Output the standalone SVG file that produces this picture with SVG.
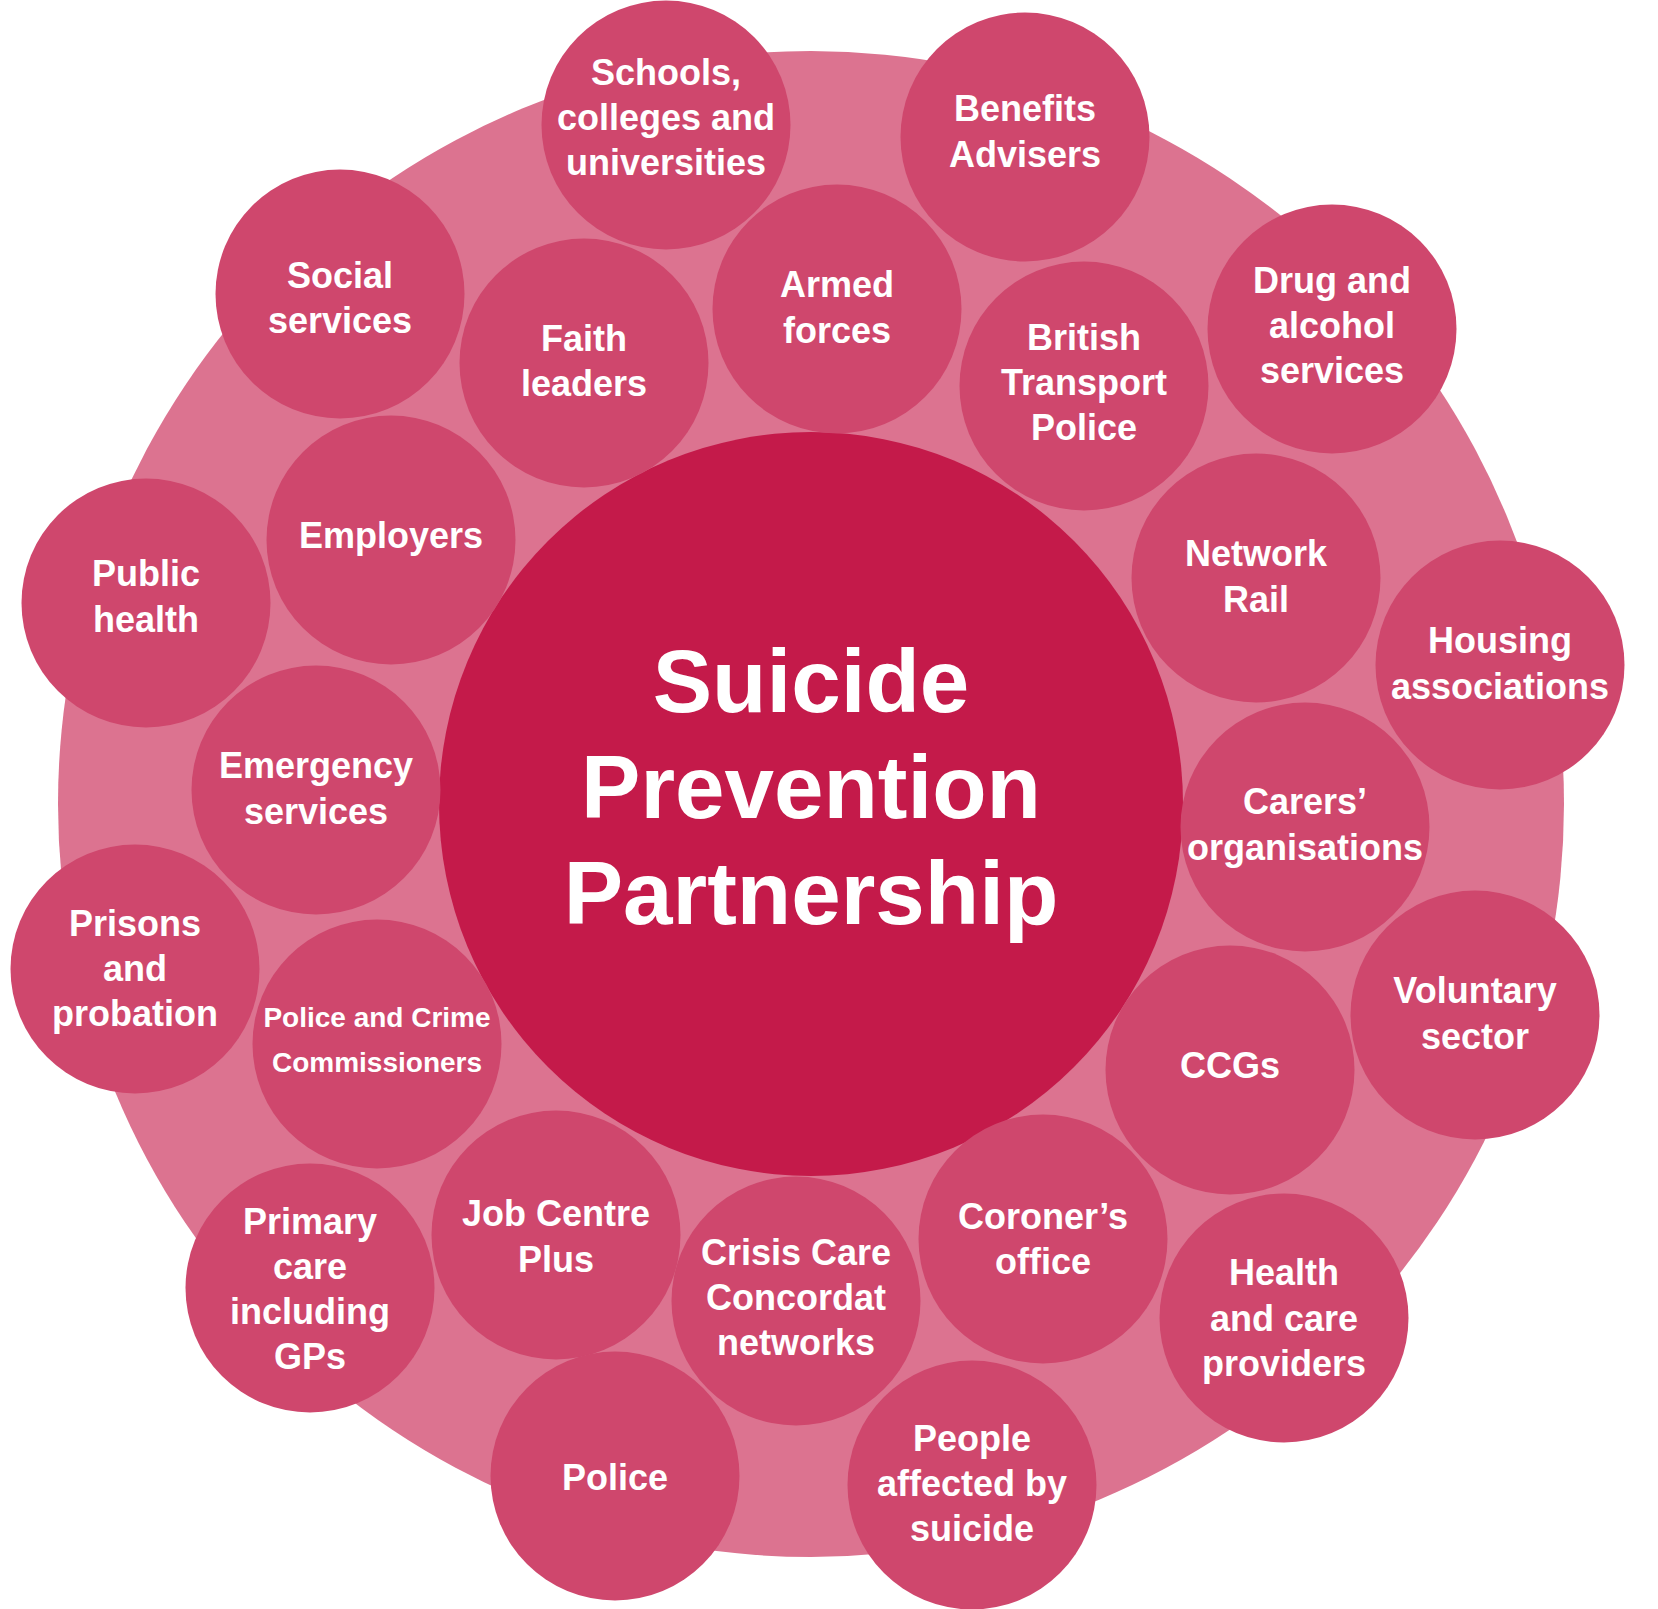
<svg xmlns="http://www.w3.org/2000/svg" width="1658" height="1609" viewBox="0 0 1658 1609">
<style>
.ring{fill:#DC7390}
.hub{fill:#C41A4A}
.node{fill:#CF476D}
.t{font-family:"Liberation Sans",Arial,Helvetica,sans-serif;font-weight:bold;font-size:36px;fill:#FFFFFF;text-anchor:middle}
.ts{font-size:28px}
.title{font-family:"Liberation Sans",Arial,Helvetica,sans-serif;font-weight:bold;font-size:89px;fill:#FFFFFF;text-anchor:middle}
</style>
<rect width="1658" height="1609" fill="#FFFFFF"/>
<g id="connectors"></g>
<g id="background-ring"><circle class="ring" cx="811" cy="804" r="753"/></g>
<g id="hub">
<circle class="hub" cx="811" cy="804" r="372"/>
<text class="title" x="811" y="712">Suicide</text>
<text class="title" x="811" y="818">Prevention</text>
<text class="title" x="811" y="924">Partnership</text>
</g>
<g id="schools"><circle class="node" cx="666" cy="125" r="124.5"/><text class="t" x="666" y="85">Schools,</text><text class="t" x="666" y="130">colleges and</text><text class="t" x="666" y="175">universities</text></g>
<g id="benefits"><circle class="node" cx="1025" cy="137" r="124.5"/><text class="t" x="1025" y="121">Benefits</text><text class="t" x="1025" y="167">Advisers</text></g>
<g id="social"><circle class="node" cx="340" cy="294" r="124.5"/><text class="t" x="340" y="288">Social</text><text class="t" x="340" y="333">services</text></g>
<g id="faith"><circle class="node" cx="584" cy="363" r="124.5"/><text class="t" x="584" y="351">Faith</text><text class="t" x="584" y="396">leaders</text></g>
<g id="armed"><circle class="node" cx="837" cy="309" r="124.5"/><text class="t" x="837" y="297">Armed</text><text class="t" x="837" y="343">forces</text></g>
<g id="btp"><circle class="node" cx="1084" cy="386" r="124.5"/><text class="t" x="1084" y="350">British</text><text class="t" x="1084" y="395">Transport</text><text class="t" x="1084" y="440">Police</text></g>
<g id="drug"><circle class="node" cx="1332" cy="329" r="124.5"/><text class="t" x="1332" y="293">Drug and</text><text class="t" x="1332" y="338">alcohol</text><text class="t" x="1332" y="383">services</text></g>
<g id="employers"><circle class="node" cx="391" cy="540" r="124.5"/><text class="t" x="391" y="548">Employers</text></g>
<g id="public-health"><circle class="node" cx="146" cy="603" r="124.5"/><text class="t" x="146" y="586">Public</text><text class="t" x="146" y="632">health</text></g>
<g id="network-rail"><circle class="node" cx="1256" cy="578" r="124.5"/><text class="t" x="1256" y="566">Network</text><text class="t" x="1256" y="612">Rail</text></g>
<g id="housing"><circle class="node" cx="1500" cy="665" r="124.5"/><text class="t" x="1500" y="653">Housing</text><text class="t" x="1500" y="699">associations</text></g>
<g id="emergency"><circle class="node" cx="316" cy="790" r="124.5"/><text class="t" x="316" y="778">Emergency</text><text class="t" x="316" y="824">services</text></g>
<g id="carers"><circle class="node" cx="1305" cy="827" r="124.5"/><text class="t" x="1305" y="814">Carers’</text><text class="t" x="1305" y="860">organisations</text></g>
<g id="prisons"><circle class="node" cx="135" cy="969" r="124.5"/><text class="t" x="135" y="936">Prisons</text><text class="t" x="135" y="981">and</text><text class="t" x="135" y="1026">probation</text></g>
<g id="pcc"><circle class="node" cx="377" cy="1044" r="124.5"/><text class="t ts" x="377" y="1027">Police and Crime</text><text class="t ts" x="377" y="1072">Commissioners</text></g>
<g id="voluntary"><circle class="node" cx="1475" cy="1015" r="124.5"/><text class="t" x="1475" y="1003">Voluntary</text><text class="t" x="1475" y="1049">sector</text></g>
<g id="ccgs"><circle class="node" cx="1230" cy="1070" r="124.5"/><text class="t" x="1230" y="1078">CCGs</text></g>
<g id="jobcentre"><circle class="node" cx="556" cy="1235" r="124.5"/><text class="t" x="556" y="1226">Job Centre</text><text class="t" x="556" y="1272">Plus</text></g>
<g id="crisis"><circle class="node" cx="796" cy="1301" r="124.5"/><text class="t" x="796" y="1265">Crisis Care</text><text class="t" x="796" y="1310">Concordat</text><text class="t" x="796" y="1355">networks</text></g>
<g id="coroner"><circle class="node" cx="1043" cy="1239" r="124.5"/><text class="t" x="1043" y="1229">Coroner’s</text><text class="t" x="1043" y="1274">office</text></g>
<g id="primary"><circle class="node" cx="310" cy="1288" r="124.5"/><text class="t" x="310" y="1234">Primary</text><text class="t" x="310" y="1279">care</text><text class="t" x="310" y="1324">including</text><text class="t" x="310" y="1369">GPs</text></g>
<g id="health-care"><circle class="node" cx="1284" cy="1318" r="124.5"/><text class="t" x="1284" y="1285">Health</text><text class="t" x="1284" y="1331">and care</text><text class="t" x="1284" y="1376">providers</text></g>
<g id="police"><circle class="node" cx="615" cy="1476" r="124.5"/><text class="t" x="615" y="1490">Police</text></g>
<g id="people"><circle class="node" cx="972" cy="1485" r="124.5"/><text class="t" x="972" y="1451">People</text><text class="t" x="972" y="1496">affected by</text><text class="t" x="972" y="1541">suicide</text></g>
</svg>
